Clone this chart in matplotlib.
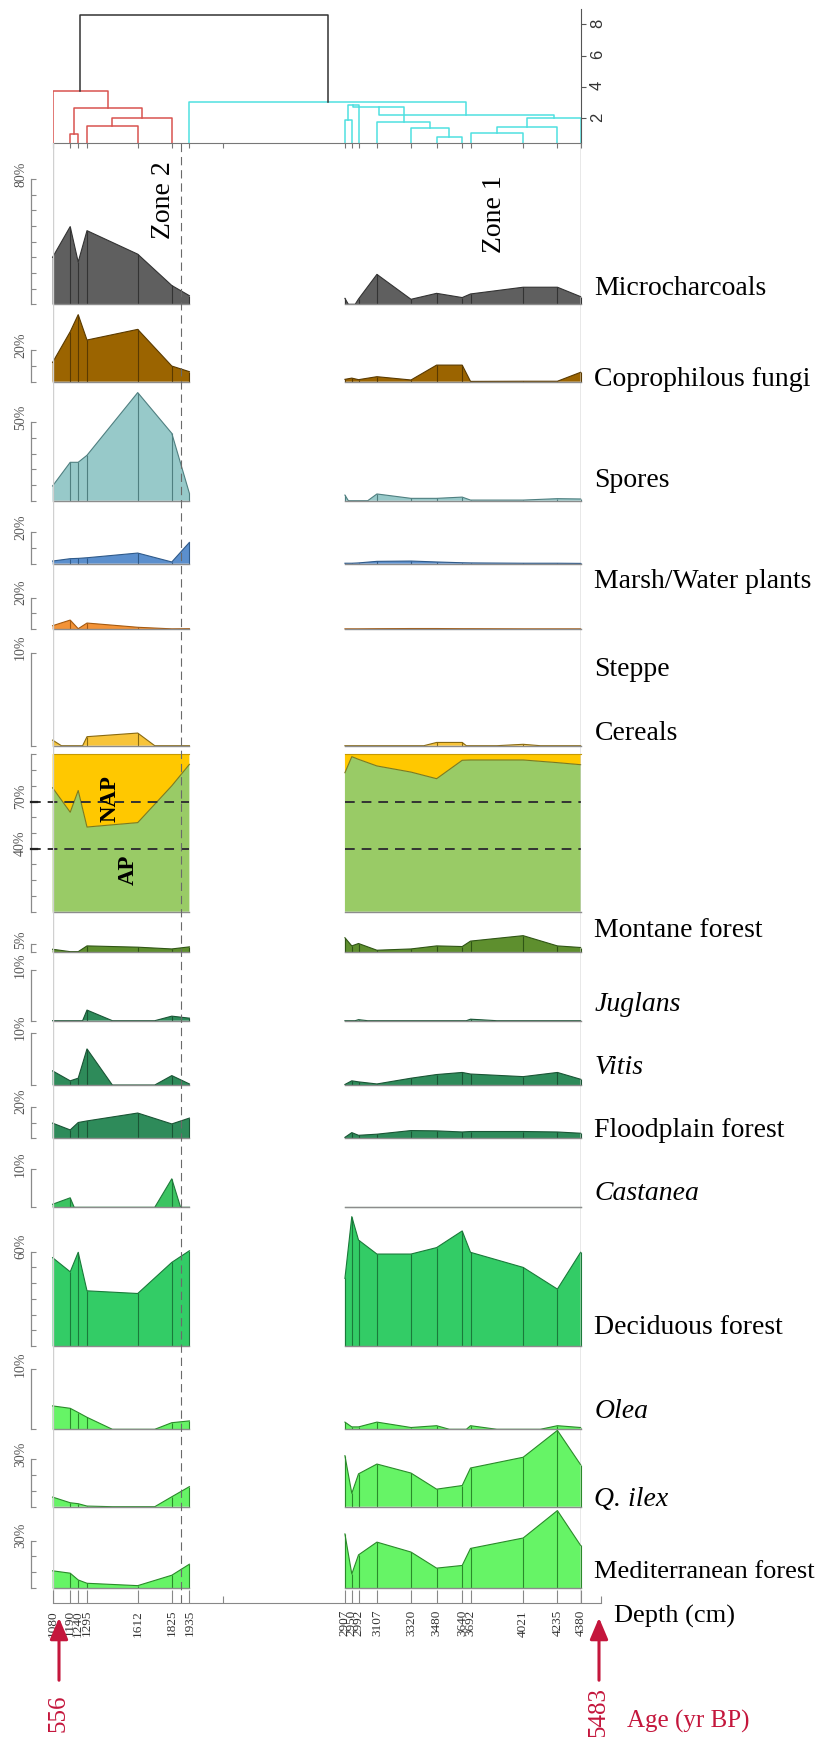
import numpy as np
import matplotlib
matplotlib.use("Agg")
import matplotlib.pyplot as plt
from matplotlib.patches import FancyArrowPatch, ArrowStyle
from matplotlib.transforms import IdentityTransform

plt.rcParams["font.family"] = ["Liberation Serif", "DejaVu Serif"]
plt.rcParams["lines.scale_dashes"] = False

# ---------------------------------------------------------------- data ----
depths = [1080, 1190, 1240, 1295, 1612, 1825, 1935,
          2907, 2950, 2992, 3107, 3320, 3480, 3640, 3692, 4021, 4235, 4380]
segments = [(0, 7), (7, 18)]          # two sampled sections of the core
zone_boundary = 1880
axis_end = 4505
minor_depth_ticks = [2144, 4505]
age_top, age_bottom = 556, 5483

microcharcoals = [30, 49.6, 27, 47, 32, 12, 5.5,
                  3.8, 0, 3.4, 19.1, 3.2, 7, 4.3, 6.6, 10.9, 10.9, 4.9]
coprophilous = [12.3, 31.9, 42.8, 26.6, 33.4, 10, 6.4,
                1.5, 2.3, 1.3, 3.2, 1.1, 10.6, 10.6, 0.2, 0.3, 0.3, 6]
spores = [9.4, 24.5, 24.5, 29, 69, 43, 4.7,
          3.6, 0, 0, 4.3, 1.5, 1.5, 2.3, 0.4, 0.4, 1.3, 1.1]
marsh = [1.7, 3.2, 3.4, 3.8, 6.8, 1.1, 13.6,
         0.3, 0.3, 0.5, 1.5, 1.7, 1.1, 0.6, 0.5, 0.3, 0.3, 0.2]
steppe = [2.1, 5.7, 0.2, 3.8, 1.1, 0.1, 0.2,
          0.1, 0.1, 0.1, 0.2, 0.3, 0.3, 0.2, 0.2, 0.1, 0.1, 0.1]
cereals = [0.6, 0, 0, 0.97, 1.36, 0, 0,
           0, 0, 0, 0, 0, 0.35, 0.35, 0, 0.15, 0, 0]
arboreal = [78.7, 63.2, 77, 53.8, 56.6, 80, 93.6,
            88.3, 98.5, 96.8, 92.6, 88.7, 84.5, 96.2, 96.4, 96.4, 94.7, 93.4]
montane = [1.9, 0.4, 0.4, 4, 3.2, 2.1, 3.4,
           9.1, 4, 5.5, 1.3, 2.1, 4, 3.6, 7, 10.4, 4, 3]
juglans = [0, 0, 0, 2.1, 0, 0.9, 0.5,
           0, 0, 0.2, 0, 0, 0, 0, 0.3, 0, 0, 0]
vitis = [2.7, 0.8, 1.3, 6.9, 0, 1.8, 0.2,
         0.1, 0.8, 0.6, 0.2, 1.3, 2.0, 2.4, 2.1, 1.6, 2.4, 1.1]
floodplain = [9.6, 5.3, 10, 11, 16, 9.1, 12.8,
              0.6, 3.6, 1.9, 2.6, 4.9, 4.7, 4.0, 4.3, 4.3, 4.0, 3.2]
castanea = [0.8, 2.5, 0, 0, 0, 7.5, 0,
            0, 0, 0, 0, 0, 0, 0, 0, 0, 0, 0]
deciduous = [56.2, 47.2, 59.6, 35.1, 33.4, 53.2, 60.6,
             43, 82.3, 67.4, 58.5, 58.5, 62.6, 73.2, 59.6, 50, 36.2, 59.6]
olea = [3.9, 3.5, 2.8, 2.0, 0, 1.1, 1.4,
        1.2, 0.4, 0.4, 1.2, 0.3, 0.6, 0, 0.6, 0, 0.6, 0.3]
q_ilex = [6.1, 2.5, 1.9, 0.4, 0, 6.3, 12.7,
          32.3, 8.5, 20.8, 27, 21.3, 11.1, 13.4, 24.5, 31.3, 48.3, 26.6]
mediterranean = [10.9, 9.4, 5.1, 3.0, 1.5, 8.1, 15.1,
                 34.3, 8.9, 21, 29.1, 22.8, 12.6, 14.3, 25.1, 31.7, 49.1, 27]

# CONISS-style clustering: (node, left, right, height)
dendro_merges = [
    ("R1", 1190, 1240, 1.00),
    ("R2", 1295, 1612, 1.51),
    ("R3", "R2", 1825, 2.00),
    ("R4", "R1", "R3", 2.68),
    ("R5", 1080, "R4", 3.77),
    ("A", 2907, 2950, 1.90),
    ("B", "A", 2992, 2.85),
    ("C", 3480, 3640, 0.83),
    ("D", 3320, "C", 1.40),
    ("E", 3107, "D", 1.74),
    ("F", 3692, 4021, 1.04),
    ("G", "F", 4235, 1.47),
    ("H", "G", 4380, 2.00),
    ("J", "B", "E", 2.70),
    ("I", "J", "H", 2.20),
    ("K", 1935, "I", 3.06),
    ("TOP", "R5", "K", 8.62),
]

# ------------------------------------------------------------- layout ----
W, H, DPI = 816, 1737, 100
PT = 72 / DPI
X_LEFT, X_RIGHT = 52.6, 580.6
SPINE_X = 31.0
AXIS_GREY = "#8a8a8a"
BASE_GREY = "#8c8c8c"
RED = "#c4163c"

fig = plt.figure(figsize=(W / DPI, H / DPI), dpi=DPI)
fig.patch.set_facecolor("white")


def fbox(x0, y_top, x1, y_bot):
    return [x0 / W, 1 - y_bot / H, (x1 - x0) / W, (y_bot - y_top) / H]


def profile(d, v):
    xs, ys = [], []
    for i in range(len(d)):
        if i > 0 and ((v[i - 1] == 0) != (v[i] == 0)):
            xs.append(0.5 * (d[i - 1] + d[i]))
            ys.append(0.0)
        xs.append(d[i])
        ys.append(v[i])
    return np.array(xs, float), np.array(ys, float)


def setup_panel(top, base, scale, tick_max, tick_step, labels):
    ax = fig.add_axes(fbox(X_LEFT, top, X_RIGHT, base))
    ax.set_facecolor("none")
    ax.set_xlim(depths[0], depths[-1])
    ax.set_ylim(0, (base - top) / scale)
    for s in ("top", "right", "bottom"):
        ax.spines[s].set_visible(False)
    sp = ax.spines["left"]
    sp.set_position(("outward", (X_LEFT - SPINE_X) * PT))
    sp.set_bounds(0, tick_max)
    sp.set_color(AXIS_GREY)
    sp.set_linewidth(0.9)
    ax.set_xticks([])
    ax.set_yticks(np.arange(0, tick_max + 1e-9, tick_step))
    ax.tick_params(axis="y", direction="in", length=5 * PT, width=0.8,
                   color=AXIS_GREY, labelleft=False)
    for t in labels:
        ax.annotate(f"{t:g}%", xy=(0, t), xycoords=("axes fraction", "data"),
                    xytext=((20.5 - X_LEFT) * PT, 5 * PT),
                    textcoords="offset points", rotation=90,
                    ha="center", va="center", fontsize=10, color="#555555")
    return ax


def draw_series(ax, values, fill, edge):
    for a, b in segments:
        d, v = depths[a:b], values[a:b]
        xs, ys = profile(d, v)
        ax.fill_between(xs, 0, ys, facecolor=fill, edgecolor="none",
                        clip_on=False, zorder=2)
        ax.plot(xs, ys, color=edge, lw=0.8, clip_on=False, zorder=3)
        nz = [(x, y) for x, y in zip(d, v) if y > 0]
        if nz:
            ax.vlines([p[0] for p in nz], 0, [p[1] for p in nz],
                      color=edge, lw=0.8, clip_on=False, zorder=3)
        ax.plot([d[0], d[-1]], [0, 0], color=BASE_GREY, lw=1.0,
                clip_on=False, zorder=4)


# name, values, fill, edge, italic, baseline px, px per %, tick max, step,
# label cap-centre px, label size
panels = [
    ("Microcharcoals", microcharcoals, "#5f5f5f", "#333333", False, 304.3, 1.567, 80, 10, 286, 20),
    ("Coprophilous fungi", coprophilous, "#9b6400", "#5a3a00", False, 381.7, 1.567, 20, 10, 377.5, 20),
    ("Spores", spores, "#97c9c9", "#4f7f80", False, 500.7, 1.567, 50, 10, 478, 20),
    ("Marsh/Water plants", marsh, "#5b8fcd", "#2f5a8a", False, 563.7, 1.567, 20, 10, 579, 20),
    ("Steppe", steppe, "#f39337", "#a65a10", False, 629.0, 1.567, 20, 10, 667.5, 20),
    ("Cereals", cereals, "#f7c43a", "#8a6a10", False, 745.7, 9.3, 10, 10, 731, 20),
    ("AP", arboreal, "#99cb66", "#55772f", False, 911.7, 1.574, 100, 10, None, 20),
    ("Montane forest", montane, "#5e8f2e", "#2f5515", False, 952.3, 1.6, 5, 5, 928, 20),
    ("Juglans", juglans, "#2e8b5a", "#1a5535", True, 1020.7, 5.07, 10, 10, 1002, 20),
    ("Vitis", vitis, "#2e8b5a", "#1a5535", True, 1085.0, 5.23, 10, 10, 1065, 20),
    ("Floodplain forest", floodplain, "#2e8b5a", "#1a5535", False, 1138.3, 1.58, 20, 10, 1128, 20),
    ("Castanea", castanea, "#3cc462", "#1f7a3a", True, 1207.3, 3.8, 10, 10, 1191, 20),
    ("Deciduous forest", deciduous, "#33cc66", "#1a7a3a", False, 1346.0, 1.572, 60, 10, 1325, 20),
    ("Olea", olea, "#66f466", "#2a8a2a", True, 1429.3, 6.0, 10, 10, 1409, 20),
    ("Q. ilex", q_ilex, "#66f466", "#2a8a2a", True, 1506.7, 1.58, 30, 10, 1497, 20),
    ("Mediterranean forest", mediterranean, "#66f466", "#2a8a2a", False, 1588.0, 1.577, 30, 10, 1569, 19),
]

LABEL_X = 594.5
CAP_HALF = 9.0

prev_base = 150.0
for name, vals, fill, edge, italic, base, scale, tmax, tstep, label_y, fs in panels:
    if name == "AP":
        ax = setup_panel(prev_base, base, scale, tmax, tstep, [70, 40])
        for a, b in segments:
            xs, ys = profile(depths[a:b], vals[a:b])
            ax.fill_between(xs, 0, ys, facecolor=fill, edgecolor="none",
                            clip_on=False, zorder=2)
            ax.fill_between(xs, ys, 100, facecolor="#ffc800", edgecolor="none",
                            clip_on=False, zorder=2)
            ax.plot(xs, ys, color="#7a7a20", lw=0.8, clip_on=False, zorder=3)
            ax.plot([xs[0], xs[-1]], [100, 100], color="#c79a00", lw=0.8,
                    clip_on=False, zorder=3)
            ax.plot([xs[0], xs[-1]], [0, 0], color=BASE_GREY, lw=1.0,
                    clip_on=False, zorder=4)
        spine_depth = depths[0] - (X_LEFT - SPINE_X) / (X_RIGHT - X_LEFT) * (depths[-1] - depths[0])
        for lvl in (70, 40):
            for (a, b), start in zip(segments, (spine_depth, None)):
                x0 = depths[a] if start is None else start
                ax.plot([x0, depths[b - 1]], [lvl, lvl], color="#333333",
                        lw=1.4, dashes=(7, 5), clip_on=False, zorder=5)
            ax.plot([spine_depth, spine_depth + 40], [lvl, lvl], color="#222222",
                    lw=1.6, clip_on=False, zorder=6)
        ax.text(1438, 72, "NAP", rotation=90, ha="center", va="center",
                fontsize=16.5, fontweight="bold", zorder=6)
        ax.text(1552, 26.5, "AP", rotation=90, ha="center", va="center",
                fontsize=16.5, fontweight="bold", zorder=6)
    else:
        ax = setup_panel(prev_base, base, scale, tmax, tstep, [tmax])
        draw_series(ax, vals, fill, edge)
        fig.text(LABEL_X / W, 1 - (label_y + CAP_HALF) / H, name,
                 fontsize=fs, va="baseline", ha="left",
                 style="italic" if italic else "normal")
    prev_base = base

# ---------------------------------------------------------- dendrogram ----
axd = fig.add_axes(fbox(X_LEFT, 8.75, X_RIGHT, 143.3))
axd.set_facecolor("none")
axd.set_xlim(depths[0], depths[-1])
LEAF_H = 0.4
axd.set_ylim(LEAF_H, 9.0)
for s in ("top", "left"):
    axd.spines[s].set_visible(False)
axd.spines["right"].set_color("#555555")
axd.spines["bottom"].set_color("#777777")
axd.yaxis.tick_right()
axd.set_yticks([2, 4, 6, 8])
axd.tick_params(axis="y", direction="out", length=5 * PT, color="#555555",
                labelsize=12, labelrotation=90, pad=3, labelcolor="#333333")
for lab in axd.get_yticklabels():
    lab.set_family(["Liberation Sans", "DejaVu Sans"])
axd.set_xticks(depths + [2144])
axd.set_xticklabels([])
axd.tick_params(axis="x", direction="out", length=5 * PT, color="#777777")

node_x, node_h = {}, {}


def gx(n):
    return node_x[n] if isinstance(n, str) else n


def gh(n):
    return node_h[n] if isinstance(n, str) else LEAF_H


for node, left, right, h in dendro_merges:
    if node.startswith("R"):
        col = "#d9534f"
    elif node == "TOP":
        col = "#333333"
    else:
        col = "#4fe0e0"
    xl, xr = gx(left), gx(right)
    axd.plot([xl, xl, xr, xr], [gh(left), h, h, gh(right)], color=col, lw=1.1)
    node_x[node] = 0.5 * (xl + xr)
    node_h[node] = h

# ----------------------------------------------------- guide lines ------
axo = fig.add_axes(fbox(X_LEFT, 143.3, X_RIGHT, 1603))
axo.set_xlim(depths[0], depths[-1])
axo.set_ylim(0, 1)
axo.axis("off")
axo.axvline(depths[0], color="#d0d0d0", lw=1.0, zorder=1)
axo.axvline(depths[-1], color="#8c8c8c", lw=1.0, zorder=1)
axo.axvline(zone_boundary, color="#6a6a6a", lw=0.8, dashes=(6, 3.5), zorder=10)

fig.text(163 / W, 1 - 200 / H, "Zone 2", rotation=90, ha="center", va="center",
         fontsize=20)
fig.text(495 / W, 1 - 214 / H, "Zone 1", rotation=90, ha="center", va="center",
         fontsize=20)

# ------------------------------------------------------- depth axis ------
axx = fig.add_axes(fbox(X_LEFT, 1570, 600.6, 1603))
axx.set_facecolor("none")
axx.set_xlim(depths[0], axis_end)
axx.set_ylim(0, 1)
for s in ("top", "left", "right"):
    axx.spines[s].set_visible(False)
axx.spines["bottom"].set_color("#888888")
axx.set_yticks([])
axx.set_xticks(depths)
axx.set_xticklabels([str(d) for d in depths])
axx.set_xticks(minor_depth_ticks, minor=True)
axx.tick_params(axis="x", which="major", direction="in", length=13 * PT,
                width=0.8, color="#888888", labelsize=9.5, labelcolor="#333333",
                labelrotation=90, pad=5)
axx.tick_params(axis="x", which="minor", direction="in", length=7 * PT,
                width=0.8, color="#888888")
fig.text(614 / W, 1 - 1616 / H, "Depth (cm)", fontsize=19, ha="left", va="center")

# ------------------------------------------------------- age arrows ------
for x_px, label, ly in ((59, str(age_top), 1713), (599, str(age_bottom), 1712)):
    arr = FancyArrowPatch((x_px, H - 1683), (x_px, H - 1615),
                          transform=IdentityTransform(),
                          arrowstyle=ArrowStyle("-|>", head_length=1.3, head_width=0.55),
                          mutation_scale=10, color=RED, lw=2.2)
    fig.add_artist(arr)
    fig.text(x_px / W, 1 - ly / H, label, rotation=90, ha="center", va="center",
             fontsize=18, color=RED)
fig.text(627 / W, 1 - 1721 / H, "Age (yr BP)", fontsize=18, ha="left",
         va="center", color=RED)

fig.savefig("out.png", dpi=DPI, facecolor="white")
